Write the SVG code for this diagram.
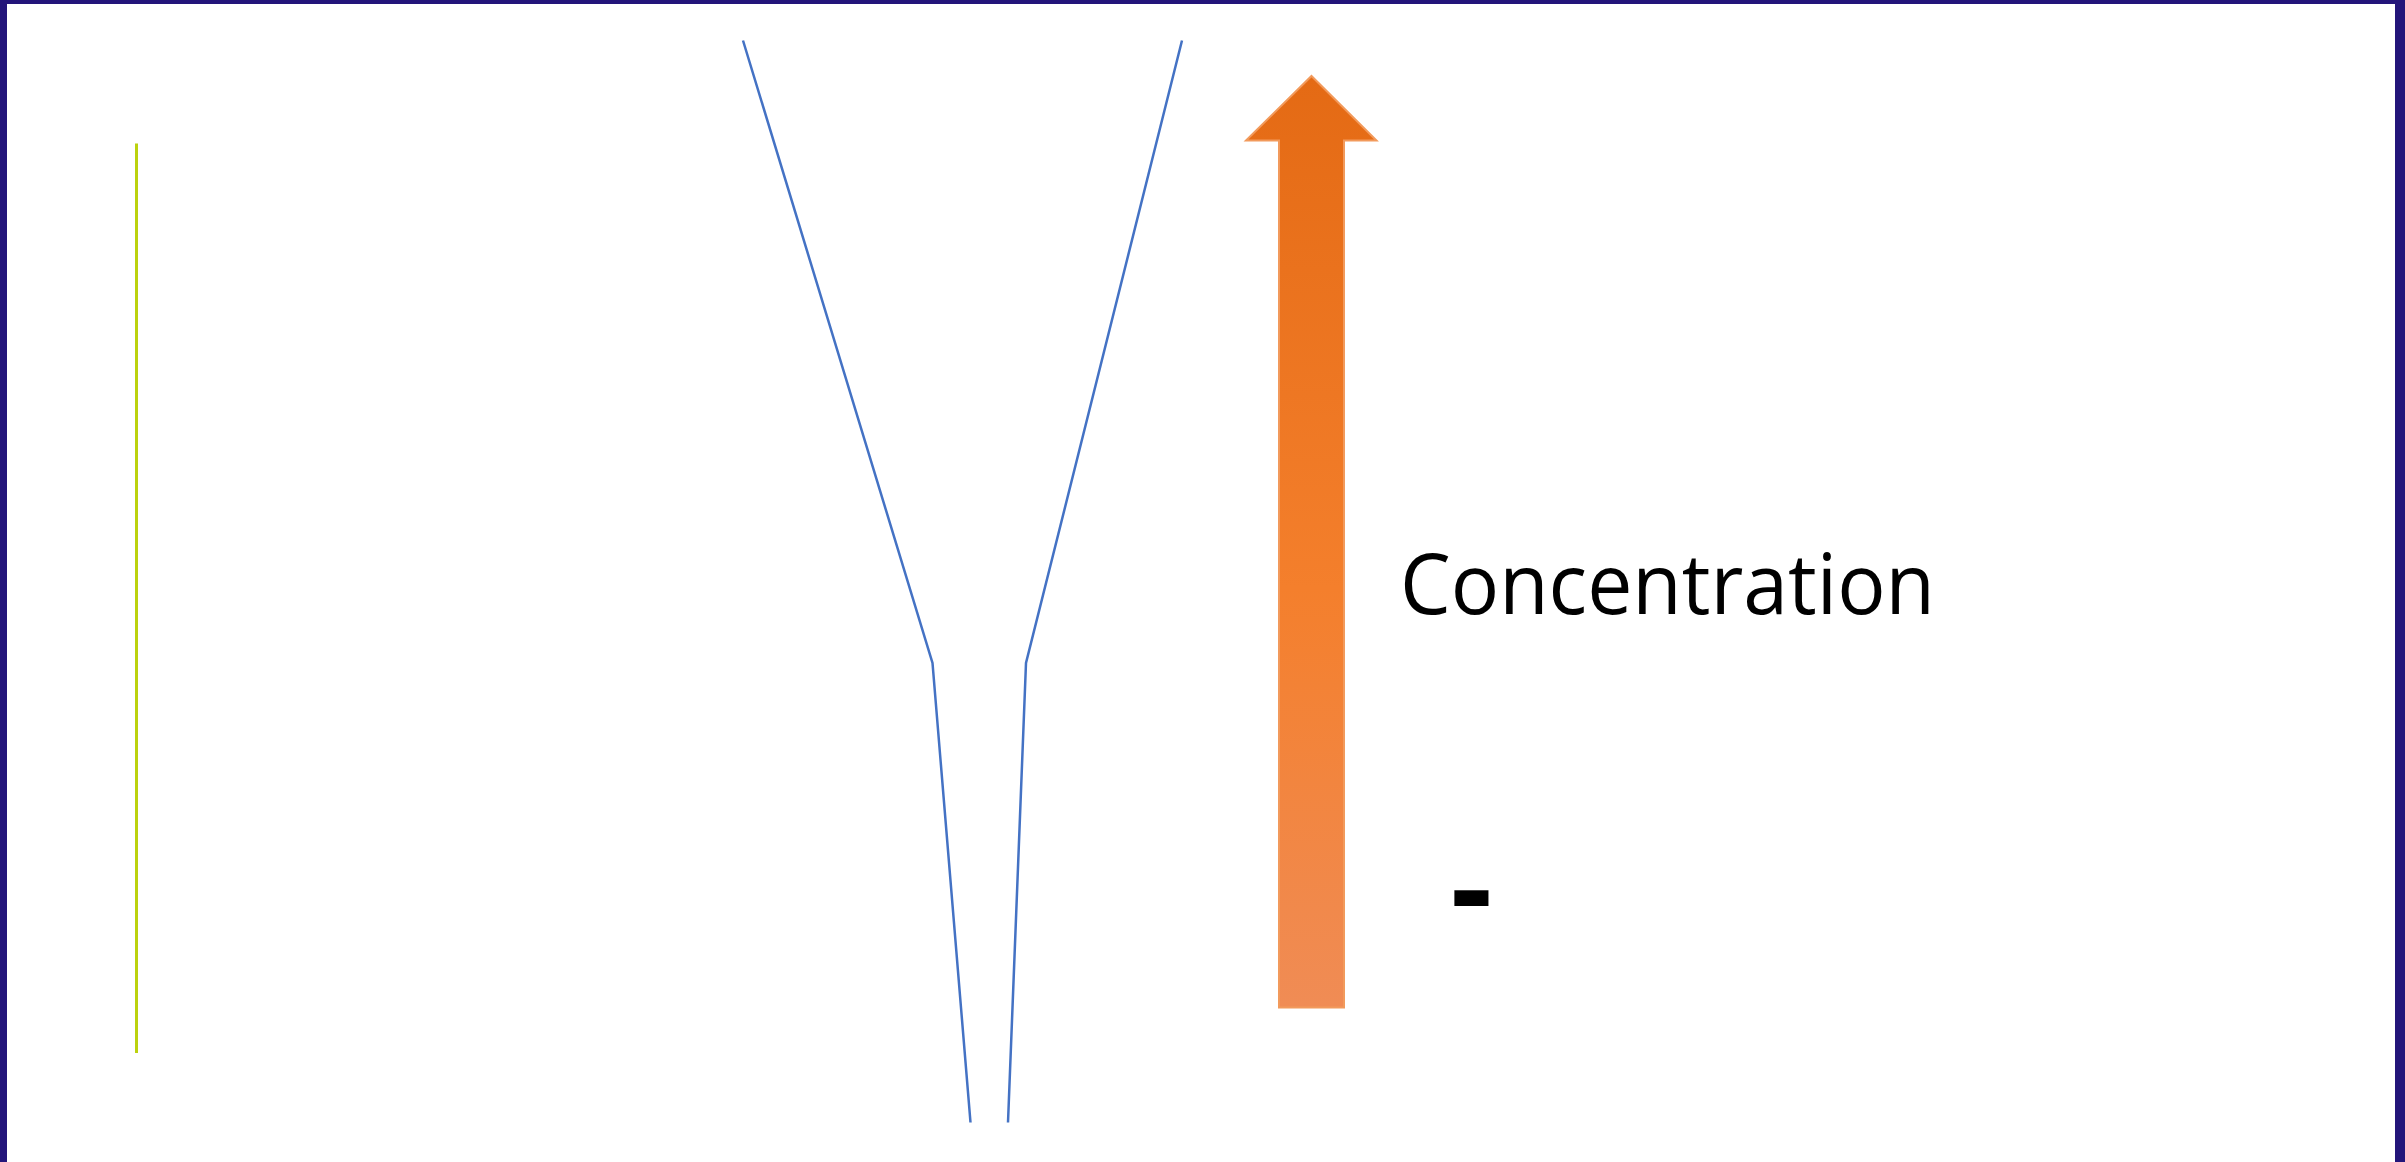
<svg xmlns="http://www.w3.org/2000/svg" width="2405" height="1162" viewBox="0 0 2405 1162">
  <style>
    .funnel { fill: none; stroke: #4472C4; stroke-width: 2.5; stroke-linejoin: miter; }
    .label { font-family: "Open Sans", "Liberation Sans", sans-serif; fill: #000000; }
  </style>
  <defs>
    <linearGradient id="arrowGrad" x1="0" y1="0" x2="0" y2="1">
      <stop offset="0" stop-color="#E46A14"/>
      <stop offset="0.55" stop-color="#F47F2C"/>
      <stop offset="1" stop-color="#F08C55"/>
    </linearGradient>
  </defs>
  <rect x="0" y="0" width="2405" height="1162" fill="#FFFFFF"/>
  <g id="frame">
    <rect x="0" y="0" width="7" height="1162" fill="#23157A"/>
    <rect x="0" y="0" width="2405" height="4" fill="#23157A"/>
    <rect x="2395" y="0" width="10" height="1162" fill="#23157A"/>
  </g>
  <g id="green-line">
    <line x1="136.5" y1="143.5" x2="136.5" y2="1053" stroke="#BCD20E" stroke-width="3"/>
  </g>
  <g id="connectors">
    <polyline class="funnel" points="743,40.5 932.5,663 970.5,1122.5"/>
    <polyline class="funnel" points="1182,40.5 1026,663 1008,1122.5"/>
  </g>
  <g id="concentration-arrow">
    <polygon points="1311.5,76 1376.5,140.5 1344,140.5 1344,1007.5 1279,1007.5 1279,140.5 1246,140.5" fill="url(#arrowGrad)" stroke="#F29A5C" stroke-width="2"/>
  </g>
  <g id="label-concentration">
    <text class="label" x="1400" y="614" font-size="85" textLength="535" lengthAdjust="spacingAndGlyphs">Concentration</text>
  </g>
  <g id="label-minus">
    <text class="label" x="1450.5" y="932.5" font-size="130" font-weight="bold">-</text>
  </g>
</svg>
